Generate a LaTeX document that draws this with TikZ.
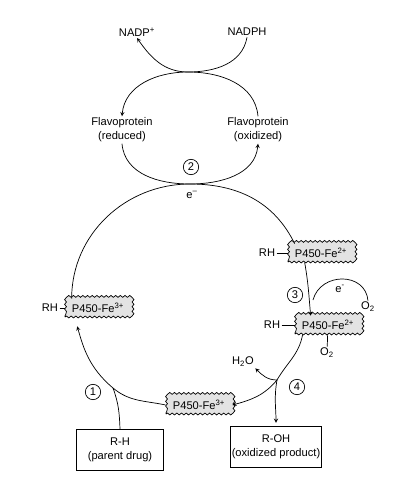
\documentclass[tikz,border=0pt]{standalone}
\usepackage{fontspec}
\setmainfont{Liberation Sans}
\usetikzlibrary{calc,decorations.pathmorphing}
\begin{document}
\begin{tikzpicture}[x=.03cm, y=.03cm, >=stealth, line width=.6pt,
		font=\fontsize{9.5}{12}\selectfont,
		fe/.style={draw, fill=gray!22, decorate, decoration={snake, amplitude=.8pt, segment length=4pt}, minimum width=1.98cm, minimum height=.54cm, inner sep=1pt},
		num/.style={draw, circle, minimum size=.46cm, inner sep=0pt},
		box/.style={draw, align=center, minimum width=2.62cm, minimum height=1.22cm, inner sep=1pt},
		lbl/.style={align=center, inner sep=1pt}]
		\useasboundingbox (0,0) rectangle (415,-500);

		% NADPH / flavoprotein
		\node[lbl] (nadpp) at (137,-32) {NADP\textsuperscript{+}};
		\node[lbl] (nadph) at (247,-32) {NADPH};
		\node[lbl] (flred) at (122,-130) {Flavoprotein\\(reduced)};
		\node[lbl] (flox) at (258,-130) {Flavoprotein\\(oxidized)};
		\node[num] (two) at (191,-167) {2};
		\node[lbl] (elec) at (192,-195) {e\textsuperscript{--}};
		\coordinate (topt) at (188,-72);
		\coordinate (midt) at (190,-184);

		% P450 states
		\node[fe] (fe3l) at (98,-308) {P450-Fe\textsuperscript{3+}};
		\node[lbl] (rhl) at (50,-308) {RH};
		\node[fe] (fe2a) at (321,-253) {P450-Fe\textsuperscript{2+}};
		\node[lbl] (rha) at (267,-253) {RH};
		\node[fe] (fe2b) at (328,-325) {P450-Fe\textsuperscript{2+}};
		\node[lbl] (rhb) at (272,-325) {RH};
		\node[lbl] (o2b) at (327,-353) {O\textsubscript{2}};
		\node[fe] (fe3b) at (199,-405) {P450-Fe\textsuperscript{3+}};

		\node[num] (three) at (295,-295) {3};
		\node[lbl] (eup) at (340,-289) {e\textsuperscript{-}};
		\node[lbl] (o2a) at (368,-307) {O\textsubscript{2}};
		\coordinate (ejoin) at (313,-300);

		\node[lbl] (h2o) at (243,-362) {H\textsubscript{2}O};
		\node[num] (four) at (297,-387) {4};
		\node[num] (one) at (93,-392) {1};
		\coordinate (jn) at (277,-380);
		\coordinate (jl) at (113,-388);

		\node[box] (rh) at (120,-450) {R-H\\(parent drug)};
		\node[box] (roh) at (276,-447) {R-OH\\(oxidized product)};

		\draw[->] (nadph.south) to [out=-100, in=0] (topt) to [out=180, in=-55] (nadpp.south);
		\draw[->] (flox.north) to [out=95, in=0] (topt) to [out=180, in=85] (flred.north);
		\draw[->] (flred.south) to [out=-85, in=180] (midt) to [out=0, in=-95] (flox.south);

		\draw ($(fe3l.north west)+(7,0)$) to [out=90, in=180] (midt) to [out=0, in=116] ($(fe2a.north west)+(7,0)$);
		\draw[->] ($(fe2a.south west)+(17,0)$) to [out=-80, in=95] ($(fe2b.north west)+(16,0)$);
		\draw (ejoin) to [out=75, in=95, looseness=1.35] (o2a.north);
		\draw ($(fe2b.south west)+(8,0)$) to [out=-100, in=60] (jn);
		\draw[->] (jn) to [out=180, in=-45] (h2o.south east);
		\draw[->] (jn) to [out=-130, in=15] (fe3b.east);
		\draw[->, shorten >=3pt] (jn) to [out=-100, in=90] (roh.north);
		\draw[->, shorten >=8pt] (fe3b.west) to [out=168, in=-40] (jl) to [out=140, in=-74] ($(fe3l.south west)+(10,0)$);
		\draw (rh.north) to [out=92, in=-70] (jl);

		\draw (rhl) -- (fe3l);
		\draw (rha) -- (fe2a);
		\draw (rhb) -- (fe2b);
		\draw (fe2b) -- (o2b);
	\end{tikzpicture}
\end{document}
